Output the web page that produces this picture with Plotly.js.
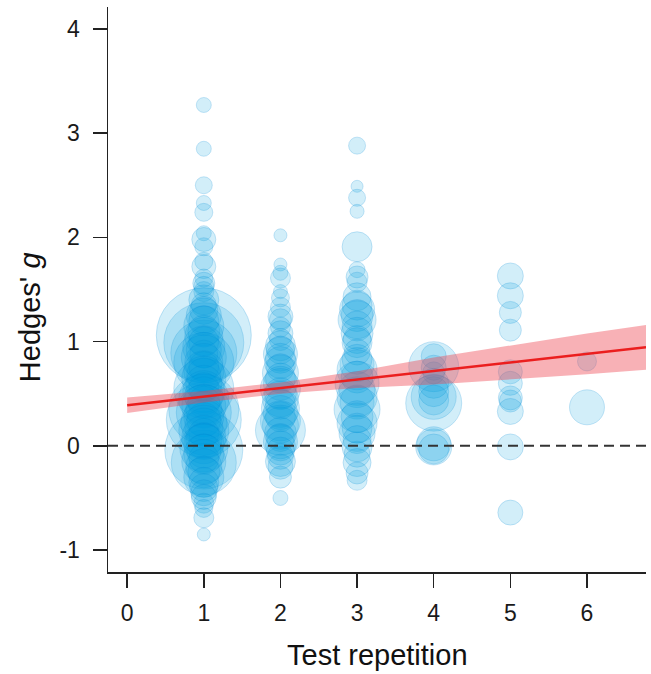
<!DOCTYPE html>
<html>
<head>
<meta charset="utf-8">
<script src="https://cdn.plot.ly/plotly-3.0.1.min.js"></script>
<style>
  html, body { margin: 0; padding: 0; background: #ffffff; }
  #chart { width: 651px; height: 674px; }
</style>
</head>
<body>
<div id="chart"></div>
<script>
// ---- Data ----
// Hedges' g per study, grouped by test repetition, with bubble weights (diameter)
const rep1G = [3.27, 2.85, 2.50, 2.33, 2.24, 2.04, 1.98, 1.91, 1.77, 1.72, 1.61, 1.56, 1.53, 1.48, 1.40, 1.35,
  1.06, 0.99, 0.89, 0.80, 0.55, 0.35, 0.25, -0.04, -0.16,
  1.30, 1.25, 1.20, 1.15, 1.10, 1.05, 1.00, 0.95, 0.92, 0.88, 0.85, 0.80, 0.76, 0.72, 0.68, 0.65, 0.60, 0.56,
  0.52, 0.48, 0.45, 0.42, 0.38, 0.35, 0.32, 0.28, 0.25, 0.22, 0.18, 0.15, 0.12, 0.08, 0.05, 0.02, -0.02,
  -0.05, -0.08, -0.12, -0.15, -0.20, -0.25, -0.30, -0.35, -0.40, -0.45, -0.49, -0.55, -0.60, -0.69, -0.85];
const rep1W = [15, 15, 17, 15, 18, 15, 24, 18, 18, 24, 18, 22, 20, 20, 30, 25,
  95, 80, 66, 60, 60, 70, 75, 78, 65,
  28, 35, 30, 40, 32, 38, 30, 42, 35, 28, 45, 38, 30, 40, 34, 44, 36, 30,
  42, 38, 50, 32, 44, 36, 55, 40, 34, 46, 38, 50, 30, 44, 36, 40, 48,
  34, 40, 30, 44, 36, 32, 40, 30, 28, 26, 25, 20, 18, 20, 13];

const rep2G = [2.02, 1.74, 1.66, 1.61, 1.48, 1.42, 1.33, 1.24, 1.21, 1.14, 1.08, 1.02, 0.96, 0.92, 0.88, 0.84,
  0.80, 0.75, 0.70, 0.65, 0.60, 0.55, 0.50, 0.45, 0.40, 0.36, 0.32, 0.28, 0.24, 0.20, 0.15, 0.12, 0.08, 0.04,
  0.00, -0.05, -0.10, -0.15, -0.20, -0.30, -0.50];
const rep2W = [13, 13, 15, 20, 14, 18, 20, 25, 22, 20, 25, 22, 30, 28, 34, 30,
  32, 28, 36, 30, 34, 40, 32, 36, 30, 38, 34, 30, 40, 36, 50, 32, 28, 34,
  30, 28, 26, 30, 25, 22, 15];

const rep3G = [2.88, 2.49, 2.38, 2.25, 1.91, 1.69, 1.62, 1.57, 1.43, 1.35, 1.31, 1.25, 1.21, 1.15, 1.08, 1.02,
  0.99, 0.90, 0.83, 0.78, 0.73, 0.66, 0.60, 0.54, 0.47, 0.42, 0.35, 0.28, 0.22, 0.17, 0.12, 0.06, -0.01,
  -0.08, -0.16, -0.26, -0.33];
const rep3W = [17, 12, 17, 14, 30, 16, 22, 20, 28, 30, 35, 32, 38, 30, 32, 28,
  30, 26, 30, 34, 40, 32, 44, 36, 40, 34, 46, 32, 40, 30, 36, 28, 30,
  26, 28, 22, 20];

const rep4G = [0.86, 0.76, 0.75, 0.70, 0.60, 0.52, 0.47, 0.44, 0.41, 0.02, -0.01, -0.03];
const rep4W = [25, 50, 25, 22, 30, 30, 45, 30, 56, 34, 36, 30];

const rep5G = [1.63, 1.44, 1.28, 1.11, 0.71, 0.60, 0.46, 0.43, 0.33, -0.01, -0.64];
const rep5W = [26, 26, 22, 22, 24, 24, 24, 22, 26, 26, 25];

const rep6G = [0.81, 0.37];
const rep6W = [19, 35];

// Meta-regression fit and its confidence band
const fitX = [0, 1, 2, 3, 4, 5, 6, 6.77];
const fitY = [0.39, 0.472, 0.554, 0.636, 0.718, 0.80, 0.882, 0.945];
const fitLower = [0.315, 0.417, 0.499, 0.556, 0.588, 0.635, 0.687, 0.73];
const fitUpper = [0.465, 0.527, 0.609, 0.716, 0.848, 0.965, 1.077, 1.16];

// Axis ticks
const xTickVals = [0, 1, 2, 3, 4, 5, 6];
const xTickText = ['0', '1', '2', '3', '4', '5', '6'];
const yTickVals = [-1, 0, 1, 2, 3, 4];
const yTickText = ['-1', '0', '1', '2', '3', '4'];

// ---- Build traces ----
const groups = [[1, rep1G, rep1W], [2, rep2G, rep2W], [3, rep3G, rep3W],
                [4, rep4G, rep4W], [5, rep5G, rep5W], [6, rep6G, rep6W]];
const bx = [], by = [], bs = [];
groups.forEach(([rep, gs, ws]) => {
  gs.forEach((g, i) => { bx.push(rep); by.push(g); bs.push(ws[i]); });
});

const bubbles = {
  type: 'scatter', mode: 'markers', x: bx, y: by, hoverinfo: 'skip',
  marker: {
    size: bs, sizemode: 'diameter', sizeref: 1,
    color: 'rgba(0,160,225,0.25)',
    line: { color: 'rgba(0,140,215,0.30)', width: 1 }
  },
  showlegend: false
};

const bandLower = {
  type: 'scatter', mode: 'lines', x: fitX, y: fitLower,
  line: { width: 0, color: 'rgba(0,0,0,0)' }, hoverinfo: 'skip', showlegend: false
};
const bandUpper = {
  type: 'scatter', mode: 'lines', x: fitX, y: fitUpper, fill: 'tonexty',
  fillcolor: 'rgba(238,70,80,0.42)',
  line: { width: 0, color: 'rgba(0,0,0,0)' }, hoverinfo: 'skip', showlegend: false
};
const fitLine = {
  type: 'scatter', mode: 'lines', x: fitX, y: fitY,
  line: { color: 'rgb(235,30,30)', width: 2.5 }, hoverinfo: 'skip', showlegend: false
};

const font = 'Liberation Sans, Arial, Helvetica, sans-serif';
const axisCommon = {
  showgrid: false, zeroline: false, showline: true,
  linecolor: '#222', linewidth: 1.5,
  ticks: 'outside', ticklen: 14, tickwidth: 1.5, tickcolor: '#222',
  tickfont: { family: font, size: 23, color: '#1a1a1a' },
  fixedrange: true
};

const layout = {
  width: 651, height: 674,
  margin: { l: 108, r: 5, t: 7, b: 102 },
  paper_bgcolor: '#ffffff', plot_bgcolor: '#ffffff',
  xaxis: Object.assign({}, axisCommon, {
    range: [-0.25, 6.77], tickmode: 'array', tickvals: xTickVals, ticktext: xTickText,
    ticklabelstandoff: 6
  }),
  yaxis: Object.assign({}, axisCommon, {
    range: [-1.21, 4.21], tickmode: 'array', tickvals: yTickVals, ticktext: yTickText,
    ticklabelstandoff: 8
  }),
  shapes: [{
    type: 'line', xref: 'paper', x0: 0, x1: 1, yref: 'y', y0: 0, y1: 0,
    line: { color: '#333', width: 2, dash: '10px,6px' }, layer: 'above'
  }],
  annotations: [
    { xref: 'paper', yref: 'paper', x: 0.5, y: -0.147, xanchor: 'center', yanchor: 'middle',
      text: 'Test repetition', showarrow: false, font: { family: font, size: 29, color: '#111' } },
    { xref: 'paper', yref: 'paper', x: -0.145, y: 0.451, xanchor: 'center', yanchor: 'middle',
      textangle: -90, text: "Hedges' <i>g</i>", showarrow: false,
      font: { family: font, size: 29, color: '#111' } }
  ]
};

Plotly.newPlot('chart', [bubbles, bandLower, bandUpper, fitLine], layout,
  { displayModeBar: false, staticPlot: true });
</script>
</body>
</html>
